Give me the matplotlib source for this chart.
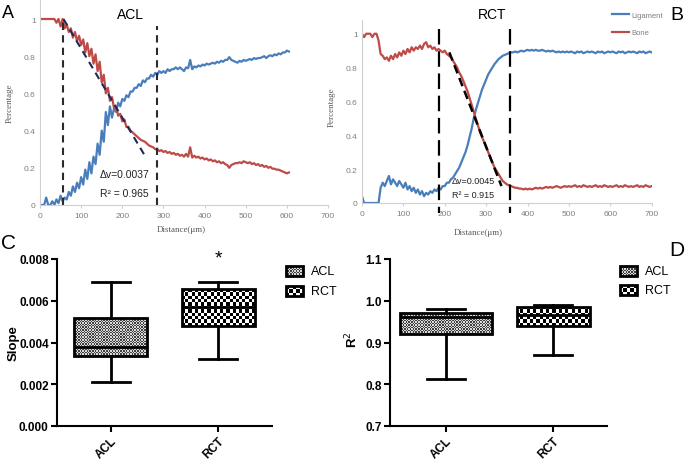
import numpy as np
import matplotlib
matplotlib.use("Agg")
import matplotlib.pyplot as plt
from matplotlib.patches import Rectangle

plt.rcParams['font.family'] = ['Liberation Sans', 'DejaVu Sans']

# ---------------- panels A / B : tissue profiles, one sample every 5 um ----------------
step = 5
acl_ligament = [
    0.00, 0.00, 0.00, 0.04, 0.00, 0.00, 0.02, 0.00, 0.03, 0.01,
    0.05, 0.02, 0.04, 0.03, 0.07, 0.05, 0.10, 0.07, 0.12, 0.09,
    0.15, 0.11, 0.19, 0.14, 0.23, 0.17, 0.26, 0.22, 0.33, 0.27,
    0.40, 0.34, 0.50, 0.43, 0.53, 0.47, 0.52, 0.50, 0.55, 0.53,
    0.57, 0.56, 0.59, 0.58, 0.61, 0.61, 0.63, 0.63, 0.65, 0.64,
    0.67, 0.66, 0.68, 0.68, 0.70, 0.69, 0.71, 0.70, 0.72, 0.71,
    0.72, 0.71, 0.73, 0.72, 0.73, 0.73, 0.74, 0.73, 0.74, 0.73,
    0.72, 0.74, 0.735, 0.78, 0.73, 0.745, 0.74, 0.75, 0.745, 0.755,
    0.75, 0.76, 0.755, 0.76, 0.765, 0.76, 0.77, 0.765, 0.775, 0.77,
    0.78, 0.78, 0.795, 0.78, 0.775, 0.77, 0.765, 0.775, 0.77, 0.78,
    0.775, 0.78, 0.785, 0.78, 0.79, 0.785, 0.79, 0.79, 0.795, 0.80,
    0.79, 0.80, 0.805, 0.80, 0.81, 0.805, 0.815, 0.81, 0.82, 0.82,
    0.83, 0.825]
acl_bone = [
    1.00, 1.00, 1.00, 1.00, 1.00, 1.00, 1.00, 1.00, 0.98, 1.00,
    0.96, 1.00, 0.95, 0.97, 0.93, 0.95, 0.90, 0.93, 0.88, 0.91,
    0.86, 0.89, 0.82, 0.87, 0.80, 0.84, 0.76, 0.81, 0.72, 0.77,
    0.66, 0.70, 0.60, 0.63, 0.56, 0.58, 0.52, 0.53, 0.48, 0.49,
    0.45, 0.46, 0.42, 0.42, 0.40, 0.39, 0.38, 0.37, 0.36, 0.35,
    0.345, 0.34, 0.33, 0.32, 0.315, 0.31, 0.30, 0.30, 0.29, 0.295,
    0.285, 0.29, 0.28, 0.285, 0.275, 0.28, 0.27, 0.275, 0.265, 0.27,
    0.26, 0.275, 0.26, 0.31, 0.255, 0.265, 0.255, 0.26, 0.25, 0.255,
    0.245, 0.25, 0.24, 0.245, 0.235, 0.24, 0.23, 0.235, 0.225, 0.23,
    0.22, 0.215, 0.20, 0.215, 0.22, 0.225, 0.225, 0.23, 0.225, 0.235,
    0.23, 0.225, 0.23, 0.22, 0.225, 0.215, 0.22, 0.21, 0.215, 0.205,
    0.21, 0.20, 0.205, 0.195, 0.195, 0.19, 0.19, 0.185, 0.18, 0.175,
    0.17, 0.175]
rct_ligament = [
    0.04, 0.00, 0.00, 0.00, 0.00, 0.00, 0.00, 0.00, 0.00, 0.09,
    0.12, 0.10, 0.13, 0.16, 0.11, 0.14, 0.12, 0.10, 0.13, 0.11,
    0.09, 0.12, 0.08, 0.10, 0.07, 0.09, 0.06, 0.08, 0.05, 0.07,
    0.04, 0.06, 0.05, 0.07, 0.06, 0.08, 0.07, 0.09, 0.08, 0.10,
    0.10, 0.12, 0.12, 0.14, 0.15, 0.17, 0.19, 0.21, 0.24, 0.27,
    0.30, 0.34, 0.39, 0.44, 0.50, 0.55, 0.59, 0.63, 0.67, 0.70,
    0.73, 0.76, 0.78, 0.80, 0.82, 0.835, 0.85, 0.86, 0.87, 0.875,
    0.88, 0.885, 0.89, 0.89, 0.895, 0.89, 0.895, 0.90, 0.895, 0.90,
    0.905, 0.90, 0.905, 0.90, 0.905, 0.90, 0.90, 0.905, 0.90, 0.895,
    0.90, 0.895, 0.90, 0.895, 0.89, 0.895, 0.89, 0.895, 0.89, 0.895,
    0.89, 0.895, 0.89, 0.885, 0.895, 0.89, 0.895, 0.885, 0.89, 0.895,
    0.89, 0.895, 0.89, 0.885, 0.895, 0.89, 0.895, 0.885, 0.89, 0.895,
    0.89, 0.895, 0.89, 0.885, 0.895, 0.89, 0.895, 0.885, 0.89, 0.895,
    0.89, 0.895, 0.89, 0.885, 0.895, 0.89, 0.895, 0.885, 0.89, 0.895,
    0.89]
rct_bone = [
    1.00, 0.98, 1.00, 1.00, 1.00, 0.98, 1.00, 1.00, 0.96, 0.88,
    0.87, 0.85, 0.86, 0.84, 0.87, 0.85, 0.88, 0.86, 0.89, 0.87,
    0.90, 0.88, 0.91, 0.89, 0.92, 0.90, 0.92, 0.91, 0.93, 0.91,
    0.94, 0.95, 0.92, 0.93, 0.91, 0.92, 0.90, 0.91, 0.90, 0.89,
    0.90, 0.88, 0.87, 0.86, 0.84, 0.82, 0.80, 0.77, 0.75, 0.72,
    0.69, 0.66, 0.62, 0.58, 0.54, 0.50, 0.46, 0.42, 0.39, 0.36,
    0.33, 0.30, 0.27, 0.24, 0.21, 0.19, 0.17, 0.15, 0.13, 0.12,
    0.11, 0.105, 0.10, 0.095, 0.09, 0.09, 0.085, 0.085, 0.08, 0.085,
    0.08, 0.085, 0.08, 0.085, 0.09, 0.085, 0.09, 0.085, 0.09, 0.095,
    0.09, 0.095, 0.09, 0.095, 0.10, 0.095, 0.09, 0.095, 0.10, 0.095,
    0.10, 0.095, 0.10, 0.105, 0.095, 0.10, 0.095, 0.105, 0.10, 0.095,
    0.10, 0.095, 0.10, 0.105, 0.095, 0.10, 0.095, 0.105, 0.10, 0.095,
    0.10, 0.095, 0.10, 0.105, 0.095, 0.10, 0.095, 0.105, 0.10, 0.095,
    0.10, 0.095, 0.10, 0.105, 0.095, 0.10, 0.095, 0.105, 0.10, 0.095,
    0.10]

acl_fit_x = [57, 259]
acl_fit_y = [1.0, 0.25]
acl_zone = [57, 285]
rct_fit_x = [211, 337]
rct_fit_y = [0.89, 0.10]
rct_zone = [187, 357]

dist_ticks = [0, 100, 200, 300, 400, 500, 600, 700]
dist_labels = ['0', '100', '200', '300', '400', '500', '600', '700']
pct_ticks = [0, 0.2, 0.4, 0.6, 0.8, 1.0]
pct_labels = ['0', '0.2', '0.4', '0.6', '0.8', '1']

# ---------------- panels C / D : box summaries ----------------
groups = ['ACL', 'RCT']
slope_low = [0.0021, 0.0032]
slope_q1 = [0.00336, 0.0048]
slope_med = [0.0038, 0.0057]
slope_q3 = [0.00515, 0.00656]
slope_high = [0.0069, 0.0069]
r2_low = [0.812, 0.87]
r2_q1 = [0.921, 0.94]
r2_med = [0.962, 0.966]
r2_q3 = [0.970, 0.986]
r2_high = [0.98, 0.99]

BLUE = '#4a7ebb'
RED = '#be4b48'
GREY = '#7f7f7f'
W, H = 685, 464

fig = plt.figure(figsize=(6.85, 4.64), dpi=100)


def px_axes(left, top, right, bottom):
    return fig.add_axes([left / W, 1 - bottom / H, (right - left) / W, (bottom - top) / H])


def profile(ax, lig, bone, ytop):
    ax.plot(np.arange(len(lig)) * step, lig, color=BLUE, lw=1.6, label='Ligament')
    ax.plot(np.arange(len(bone)) * step, bone, color=RED, lw=1.6, label='Bone')
    ax.set_xlim(0, 700)
    ax.set_ylim(0, ytop)
    ax.set_xticks(dist_ticks, dist_labels)
    ax.set_yticks(pct_ticks, pct_labels)
    ax.tick_params(labelsize=6, colors=GREY, length=0, pad=3)
    ax.tick_params(axis='x', length=2, color='#d0d0d0')
    for s in ['top', 'right']:
        ax.spines[s].set_visible(False)
    for s in ['left', 'bottom']:
        ax.spines[s].set_color('#d0d0d0')
        ax.spines[s].set_linewidth(0.8)
    ax.set_xlabel('Distance(μm)', family='Liberation Serif', fontsize=6.5, color='#595959')
    ax.set_ylabel('Percentage', family='Liberation Serif', fontsize=6.5, color='#595959')


# ---- A ----
axA = px_axes(40, 1.4, 328, 206)
profile(axA, acl_ligament, acl_bone, 1.1)
axA.plot(acl_fit_x, acl_fit_y, color='#1f2a55', lw=1.5, dashes=(3.5, 2.5))
for xv in acl_zone:
    axA.plot([xv, xv], [0, 1.0 if xv == acl_zone[0] else 0.96], color='#2b2b2b', lw=1.5,
             dashes=(3.5, 2.5), clip_on=False)
axA.text(146, 0.165, 'Δv=0.0037', fontsize=7.5, color='#222222', va='center')
axA.text(146, 0.065, 'R² = 0.965', fontsize=7.5, color='#222222', va='center')
axA.xaxis.set_label_coords(0.49, -0.1)
axA.yaxis.set_label_coords(-0.09, 0.5)

# ---- B ----
axB = px_axes(362, 21.2, 651.7, 204)
profile(axB, rct_ligament, rct_bone, 1.08)
axB.plot(rct_fit_x, rct_fit_y, color='black', lw=1.8, dashes=(3.5, 2))
for xv in rct_zone:
    axB.plot([xv, xv], [1.03, -0.06], color='black', lw=1.6, dashes=(7, 3), clip_on=False)
axB.text(217, 0.13, 'Δv=0.0045', fontsize=6.5, color='#222222', va='center')
axB.text(217, 0.05, 'R² = 0.915', fontsize=6.5, color='#222222', va='center')
axB.xaxis.set_label_coords(0.40, -0.135)
axB.yaxis.set_label_coords(-0.09, 0.53)
leg = fig.legend(handles=axB.get_lines()[:2], loc='upper left',
                 bbox_to_anchor=(608 / W, 1 - 9 / H), frameon=False, fontsize=5.5,
                 handlelength=2.2, handletextpad=0.3, labelspacing=1.3, borderpad=0)
for t in leg.get_texts():
    t.set_color(GREY)

fig.text(130 / W, 1 - 15 / H, 'ACL', fontsize=10, ha='center', va='center')
fig.text(492 / W, 1 - 15 / H, 'RCT', fontsize=10, ha='center', va='center')


# ---------------- box plots ----------------
def texture(ax, bbox, cell, lo, hi, clip, z=1.5):
    # checker fill drawn under the box outline and clipped to it
    p0 = ax.transData.transform((bbox.x0, bbox.y0))
    p1 = ax.transData.transform((bbox.x1, bbox.y1))
    nx = max(1, int(round(abs(p1[0] - p0[0]) / cell)))
    ny = max(1, int(round(abs(p1[1] - p0[1]) / cell)))
    grid = np.add.outer(np.arange(ny), np.arange(nx)) % 2 * (hi - lo) + lo
    im = ax.imshow(grid, cmap='gray', vmin=0, vmax=1, aspect='auto', interpolation='nearest',
                   extent=(bbox.x0, bbox.x1, bbox.y0, bbox.y1), zorder=z)
    im.set_clip_path(clip)


styles = [(1.4, 0.25, 0.85), (3.2, 0.0, 1.0)]


def boxes(ax, low, q1, med, q3, high, widths, capw, xlim, ylim, ticks, fmt, ylabel):
    stats = [dict(whislo=low[i], q1=q1[i], med=med[i], q3=q3[i], whishi=high[i], label=groups[i])
             for i in range(len(groups))]
    lw = 2
    art = ax.bxp(stats, positions=[1, 2], widths=widths, capwidths=capw, patch_artist=True,
                 showfliers=False, manage_ticks=False,
                 boxprops=dict(facecolor='none', edgecolor='black', linewidth=lw),
                 medianprops=dict(color='black', linewidth=lw),
                 whiskerprops=dict(color='black', linewidth=lw),
                 capprops=dict(color='black', linewidth=lw))
    ax.set_xlim(*xlim)
    ax.set_ylim(*ylim)
    for patch, st in zip(art['boxes'], styles):
        patch.set_zorder(3)
        texture(ax, patch.get_path().get_extents(), *st, clip=patch)
    ax.set_xlim(*xlim)
    ax.set_ylim(*ylim)
    ax.set_xticks([1, 2], groups, rotation=45, ha='right', rotation_mode='anchor')
    ax.set_yticks(ticks, [fmt % t for t in ticks])
    ax.tick_params(labelsize=8.5, width=1.5, length=4, direction='out', pad=2)
    for t in ax.get_xticklabels() + ax.get_yticklabels():
        t.set_fontweight('bold')
    for s in ['top', 'right']:
        ax.spines[s].set_visible(False)
    for s in ['left', 'bottom']:
        ax.spines[s].set_linewidth(1.5)
    ax.set_ylabel(ylabel, fontsize=9.5, fontweight='bold')


def legend_boxes(ax, x_px, y_px):
    inv = ax.transData.inverted()
    for yp, name, st in zip(y_px, groups, styles):
        d0 = inv.transform((x_px, H - yp - 5))
        d1 = inv.transform((x_px + 17, H - yp + 5))
        rect = Rectangle(d0, d1[0] - d0[0], d1[1] - d0[1], facecolor='none', edgecolor='black',
                         lw=2, clip_on=False, zorder=5)
        ax.add_patch(rect)
        texture(ax, rect.get_bbox(), *st, clip=rect, z=4)
        t = inv.transform((x_px + 25, H - yp))
        ax.text(t[0], t[1], name, fontsize=9, va='center', ha='left')


axC = px_axes(57, 260, 272, 427)
boxes(axC, slope_low, slope_q1, slope_med, slope_q3, slope_high, [0.675, 0.675], [0.35, 0.35],
      (0.5, 2.5), (0, 0.008), [0, 0.002, 0.004, 0.006, 0.008], '%.3f', 'Slope')
axC.yaxis.set_label_coords(-0.175, 0.5)
axC.text(2, 0.00765, '*', fontsize=14, ha='center', va='bottom')
legend_boxes(axC, 286, [272, 292])
axC.set_xlim(0.5, 2.5)
axC.set_ylim(0, 0.008)

axD = px_axes(390, 260, 607, 427)
boxes(axD, r2_low, r2_q1, r2_med, r2_q3, r2_high, [0.86, 0.68], [0.36, 0.35],
      (0.48, 2.5), (0.7, 1.1), [0.7, 0.8, 0.9, 1.0, 1.1], '%.1f', 'R$^2$')
axD.yaxis.set_label_coords(-0.135, 0.52)
legend_boxes(axD, 620, [272, 291])
axD.set_xlim(0.48, 2.5)
axD.set_ylim(0.7, 1.1)

for letter, x, y, fs in [('A', 8, 14, 13), ('B', 677, 15, 14), ('C', 9, 244, 15), ('D', 677, 251, 15)]:
    fig.text(x / W, 1 - y / H, letter, fontsize=fs, ha='center', va='center')

fig.savefig('out.png', dpi=100)
